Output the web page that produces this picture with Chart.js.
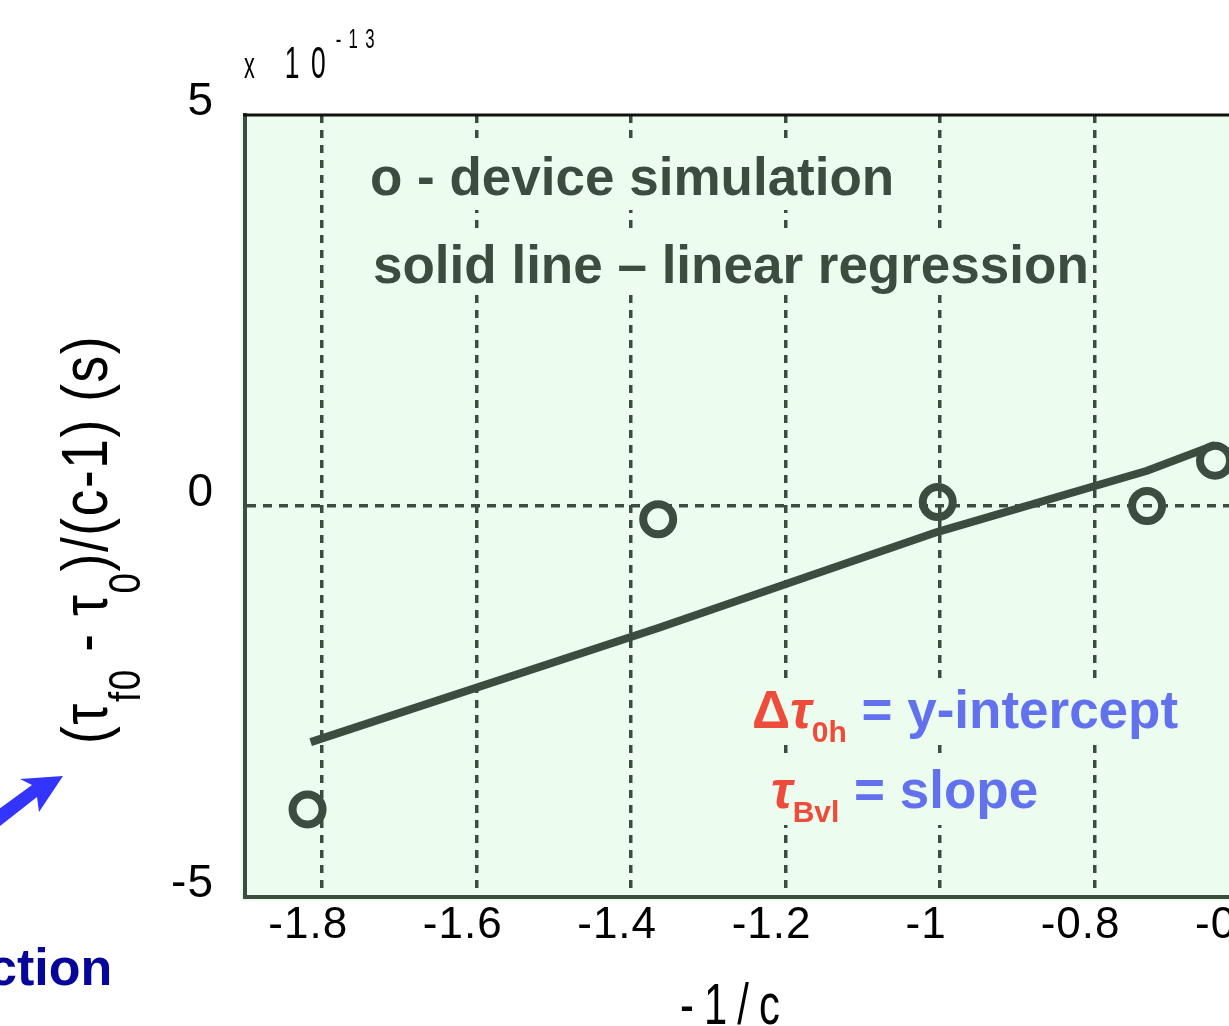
<!DOCTYPE html>
<html>
<head>
<meta charset="utf-8">
<script src="https://cdn.jsdelivr.net/npm/chart.js@4.4.1/dist/chart.umd.min.js"></script>
<style>
  html, body { margin: 0; padding: 0; background: #fff; overflow: hidden; }
  #wrap { position: relative; width: 1290px; height: 1026px; }
</style>
</head>
<body>
<div id="wrap"><canvas id="chart" width="1290" height="1026"></canvas></div>
<script>
// device simulation points (o)
const simX = [-1.819, -1.365, -1.003, -0.732, -0.644];
const simY = [-3.88, -0.17, 0.05, 0.0, 0.58];

// linear regression line
const fitX = [-1.815, -1.365, -1.003, -0.732, -0.644];
const fitY = [-3.02, -1.56, -0.33, 0.45, 0.78];

const xTicks = [-1.8, -1.6, -1.4, -1.2, -1.0, -0.8, -0.6];
const yTicks = [-5, 0, 5];

const dark = '#3c4d3e';
const plotBg = '#ecfcee';
const red = '#ef4b3a';
const blue = '#6272ee';
const sans = '"Liberation Sans", Arial, sans-serif';

// fill the plot area and spread the tick text a little
const backdrop = {
    id: 'backdrop',
    beforeDraw(chart) {
        const {ctx, chartArea: a} = chart;
        ctx.save();
        ctx.fillStyle = plotBg;
        ctx.fillRect(a.left - 4, a.top, a.right - a.left + 4, a.bottom - a.top + 4);
        ctx.restore();
        ctx.letterSpacing = '1px';
    },
    beforeDatasetsDraw(chart) {
        chart.ctx.letterSpacing = '0px';
    }
};

function drawRuns(ctx, x, y, runs) {
    for (const r of runs) {
        ctx.font = r.font;
        ctx.fillStyle = r.color;
        ctx.fillText(r.text, x, y + (r.dy || 0));
        x += ctx.measureText(r.text).width;
    }
}

const notes = {
    id: 'notes',
    afterDraw(chart) {
        const {ctx, chartArea: a} = chart;
        ctx.save();
        ctx.letterSpacing = '0px';
        ctx.textBaseline = 'alphabetic';
        ctx.textAlign = 'left';

        // top border of the box
        ctx.strokeStyle = '#111';
        ctx.lineWidth = 3;
        ctx.beginPath();
        ctx.moveTo(a.left - 2, a.top);
        ctx.lineTo(a.right, a.top);
        ctx.stroke();

        // text boxes hide the grid behind them
        ctx.fillStyle = plotBg;
        ctx.fillRect(a.left + 125, a.top + 28, 530, 67);
        ctx.fillRect(a.left + 125, a.top + 117, 722, 60);
        ctx.fillRect(a.left + 503, a.top + 565, 445, 65);
        ctx.fillRect(a.left + 515, a.top + 645, 300, 65);

        const big = 'bold 53px ' + sans;
        const bigIt = 'italic bold 53px ' + sans;
        const sub = 'bold 30px ' + sans;
        drawRuns(ctx, a.left + 125, a.top + 80, [{text: 'o - device simulation', font: big, color: dark}]);
        drawRuns(ctx, a.left + 128, a.top + 168, [{text: 'solid line \u2013 linear regression', font: big, color: dark}]);
        drawRuns(ctx, a.left + 507, a.top + 613, [
            {text: '\u0394', font: big, color: red},
            {text: '\u03c4', font: bigIt, color: red},
            {text: '0h', font: sub, color: red, dy: 14},
            {text: ' = y-intercept', font: big, color: blue}
        ]);
        drawRuns(ctx, a.left + 526, a.top + 693, [
            {text: '\u03c4', font: bigIt, color: red},
            {text: 'Bvl', font: sub, color: red, dy: 14},
            {text: ' = slope', font: big, color: blue}
        ]);

        // exponent above the y axis, squeezed like the original font
        ctx.fillStyle = '#000';
        ctx.save();
        ctx.translate(244, 78);
        ctx.scale(0.6, 1);
        ctx.font = '36px ' + sans;
        ctx.fillText('x', 0, 0);
        ctx.letterSpacing = '19px';
        ctx.font = '44px ' + sans;
        ctx.fillText('10', 68, 0);
        ctx.letterSpacing = '12px';
        ctx.font = '28px ' + sans;
        ctx.fillText('-13', 153, -30);
        ctx.restore();

        // x axis title
        ctx.save();
        ctx.translate(730, 1024);
        ctx.scale(0.72, 1);
        ctx.letterSpacing = '14px';
        ctx.textAlign = 'center';
        ctx.font = '58px ' + sans;
        ctx.fillText('-1/c', 7, 0);
        ctx.restore();

        // rotated y axis title with subscripts
        ctx.save();
        ctx.translate(107, 744);
        ctx.rotate(-Math.PI / 2);
        ctx.scale(0.83, 1);
        ctx.letterSpacing = '2px';
        const yMain = '64px ' + sans;
        const ySub = '44px ' + sans;
        drawRuns(ctx, 0, 0, [
            {text: '(', font: yMain, color: '#000'},
            {text: '\u03c4', font: yMain, color: '#000'},
            {text: 'f0', font: ySub, color: '#000', dy: 33},
            {text: ' - ', font: yMain, color: '#000'},
            {text: '\u03c4', font: yMain, color: '#000'},
            {text: '0', font: ySub, color: '#000', dy: 33},
            {text: ')/(c-1) (s)', font: yMain, color: '#000'}
        ]);
        ctx.restore();

        // leftovers of the slide around the figure
        ctx.fillStyle = '#3434ff';
        ctx.beginPath();
        ctx.moveTo(-5, 812);
        ctx.lineTo(32, 785);
        ctx.lineTo(20, 779);
        ctx.lineTo(63, 776);
        ctx.lineTo(39, 812);
        ctx.lineTo(37, 797);
        ctx.lineTo(0, 826);
        ctx.closePath();
        ctx.fill();

        ctx.fillStyle = '#06069a';
        ctx.font = 'bold 52px ' + sans;
        ctx.fillText('ction', -12, 985);
        ctx.restore();
    }
};

const ctx = document.getElementById('chart').getContext('2d');

const myChart = new Chart(ctx, {
    type: 'scatter',
    data: {
        datasets: [{
            label: 'linear regression',
            data: fitX.map((x, i) => ({x, y: fitY[i]})),
            showLine: true,
            borderColor: dark,
            borderWidth: 8,
            pointRadius: 0,
            fill: false,
        }, {
            label: 'device simulation',
            data: simX.map((x, i) => ({x, y: simY[i]})),
            borderColor: dark,
            backgroundColor: 'rgba(0,0,0,0)',
            pointRadius: 15,
            pointBorderWidth: 8,
            pointHoverRadius: 15,
        }]
    },
    options: {
        responsive: false,
        animation: false,
        layout: {
            padding: {top: 115, right: 41, left: 0, bottom: 0},
        },
        plugins: {
            legend: {display: false},
            tooltip: {enabled: false},
        },
        scales: {
            x: {
                type: 'linear',
                min: -1.9,
                max: -0.6,
                afterBuildTicks: s => { s.ticks = xTicks.map(v => ({value: v})); },
                afterFit: s => { s.height = 129; s.paddingLeft = 0; s.paddingRight = 0; },
                grid: {
                    color: dark,
                    lineWidth: 3.5,
                    drawTicks: false,
                },
                border: {
                    color: dark,
                    width: 4,
                    dash: [8, 7],
                },
                ticks: {
                    color: '#000',
                    padding: 7,
                    labelOffset: -14,
                    maxRotation: 0,
                    font: {family: sans, size: 44, lineHeight: 1},
                    callback: v => String(Math.round(v * 10) / 10),
                },
            },
            y: {
                type: 'linear',
                min: -5,
                max: 5,
                afterBuildTicks: s => { s.ticks = yTicks.map(v => ({value: v})); },
                afterFit: s => { s.width = 245; s.paddingTop = 0; s.paddingBottom = 0; },
                grid: {
                    color: c => (c.tick && c.tick.value === 0) ? dark : 'rgba(0,0,0,0)',
                    lineWidth: 3.5,
                    drawTicks: false,
                },
                border: {
                    color: dark,
                    width: 4,
                    dash: [9, 7],
                },
                ticks: {
                    color: '#000',
                    padding: 31,
                    labelOffset: -13,
                    font: {family: sans, size: 46, lineHeight: 1},
                    callback: v => String(v),
                },
            },
        },
    },
    plugins: [backdrop, notes],
});
</script>
</body>
</html>
